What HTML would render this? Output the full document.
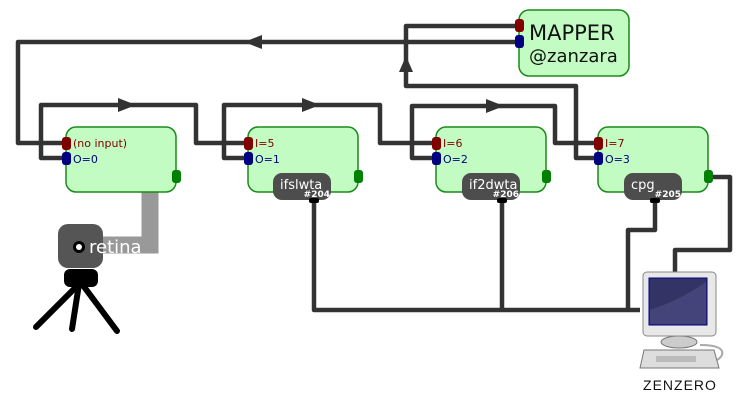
<!DOCTYPE html>
<html><head><style>body{margin:0;background:#fff}svg{display:block}</style></head><body>
<svg width="745" height="400" viewBox="0 0 745 400" xmlns="http://www.w3.org/2000/svg" font-family="DejaVu Sans, Liberation Sans, sans-serif">
<g fill="none" stroke="#333" stroke-width="4.5" stroke-linejoin="round">
<path d="M519,42 H18 V143 H66"/>
<path d="M66,158 H41 V105 H196 V143 H248"/>
<path d="M248,158 H224 V105 H380 V143 H436"/>
<path d="M436,158 H412 V106 H555 V143 H598"/>
<path d="M598,158 H576 V86 H406 V26 H519"/>
<path d="M708,177 H730 V250 H675 V274"/>
<path d="M314,200 V310 H640"/>
<path d="M502,200 V310"/>
<path d="M655,200 V230 H628 V310"/>
</g>
<g fill="#333">
<polygon points="244,42 262,35 262,49"/>
<polygon points="136,105 118,98 118,112"/>
<polygon points="320,105 302,98 302,112"/>
<polygon points="504,106 486,99 486,113"/>
<polygon points="406,56 399,72 413,72"/>
</g>
<path d="M150,192 V245 H100" fill="none" stroke="#999" stroke-width="17"/>
<g fill="#c2fcc2" stroke="#1a8a1a" stroke-width="1.5">
<rect x="66" y="127" width="110" height="65" rx="10"/>
<rect x="248" y="127" width="110" height="65" rx="10"/>
<rect x="436" y="127" width="110" height="65" rx="10"/>
<rect x="598" y="127" width="110" height="65" rx="10"/>
<rect x="519" y="10" width="110" height="66" rx="10"/>
</g>
<g>
<rect x="62" y="137" width="9" height="13" rx="3" fill="#800000"/><rect x="62" y="152" width="9" height="13" rx="3" fill="#000080"/>
<rect x="244" y="137" width="9" height="13" rx="3" fill="#800000"/><rect x="244" y="152" width="9" height="13" rx="3" fill="#000080"/>
<rect x="432" y="137" width="9" height="13" rx="3" fill="#800000"/><rect x="432" y="152" width="9" height="13" rx="3" fill="#000080"/>
<rect x="594" y="137" width="9" height="13" rx="3" fill="#800000"/><rect x="594" y="152" width="9" height="13" rx="3" fill="#000080"/>
<rect x="515" y="19" width="9" height="13" rx="3" fill="#800000"/><rect x="515" y="35" width="9" height="13" rx="3" fill="#000080"/>
<rect x="172" y="170" width="9" height="13" rx="3" fill="#008000"/>
<rect x="354" y="170" width="9" height="13" rx="3" fill="#008000"/>
<rect x="542" y="170" width="9" height="13" rx="3" fill="#008000"/>
<rect x="704" y="170" width="9" height="13" rx="3" fill="#008000"/>
</g>
<g font-size="11">
<text x="73" y="147" fill="#800000">(no input)</text><text x="73" y="163" fill="#000080">O=0</text>
<text x="255" y="147" fill="#800000">I=5</text><text x="255" y="163" fill="#000080">O=1</text>
<text x="443" y="147" fill="#800000">I=6</text><text x="443" y="163" fill="#000080">O=2</text>
<text x="605" y="147" fill="#800000">I=7</text><text x="605" y="163" fill="#000080">O=3</text>
</g>
<text x="529" y="40" font-size="21" fill="#111">MAPPER</text>
<text x="529" y="62" font-size="18" fill="#111">@zanzara</text>
<g fill="#4d4d4d">
<rect x="273" y="173" width="58" height="27" rx="9"/>
<rect x="462" y="173" width="58" height="27" rx="9"/>
<rect x="624" y="173" width="58" height="27" rx="9"/>
</g>
<g fill="#000"><rect x="309" y="198" width="10" height="5" rx="2"/><rect x="497" y="198" width="10" height="5" rx="2"/><rect x="650" y="198" width="10" height="5" rx="2"/></g>
<g fill="#fff">
<text x="280" y="189" font-size="13">ifslwta</text><text x="330" y="197" font-size="9" font-weight="bold" text-anchor="end">#204</text>
<text x="469" y="189" font-size="13">if2dwta</text><text x="519" y="197" font-size="9" font-weight="bold" text-anchor="end">#206</text>
<text x="631" y="189" font-size="13">cpg</text><text x="681" y="197" font-size="9" font-weight="bold" text-anchor="end">#205</text>
</g>
<rect x="58" y="224" width="45" height="44" rx="10" fill="#555"/>
<circle cx="79" cy="247" r="6" fill="#000"/><circle cx="79" cy="247" r="3" fill="#fff"/>
<text x="89" y="253" font-size="18" fill="#fff">retina</text>
<rect x="64" y="269" width="34" height="18" rx="6" fill="#000"/>
<g stroke="#000" stroke-width="6" stroke-linecap="round"><line x1="79" y1="284" x2="36" y2="327"/><line x1="79" y1="284" x2="72" y2="329"/><line x1="82" y1="284" x2="117" y2="331"/></g>
<path d="M700,345 Q725,345 722,355 Q718,362 708,362" fill="none" stroke="#aaa" stroke-width="2"/>
<ellipse cx="679" cy="342" rx="18" ry="6" fill="#ccc" stroke="#777"/>
<path d="M644,350 H714 L719,368 H640 Z" fill="#ddd" stroke="#777"/>
<rect x="656" y="356" width="40" height="6" fill="#bbb"/>
<rect x="643" y="272" width="73" height="64" rx="4" fill="#e8e8e8" stroke="#888"/>
<rect x="649" y="278" width="58" height="47" fill="#333366" stroke="#000088"/>
<path d="M650,310 Q680,300 706,282 V324 H650 Z" fill="#44447a"/>
<text x="680" y="390" font-size="14" text-anchor="middle" fill="#111" font-family="Liberation Sans, sans-serif" letter-spacing="1">ZENZERO</text>
</svg>
</body></html>
